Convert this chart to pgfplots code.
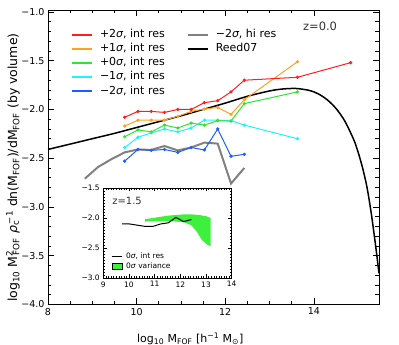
\documentclass[border=0pt]{standalone}
\usepackage{fontspec}
\setmainfont{DejaVu Sans}
\usepackage{pgfplots}
\pgfplotsset{compat=1.18}
\definecolor{lnRed}{HTML}{FF1E1E}
\definecolor{lnOrange}{HTML}{FFA024}
\definecolor{lnGreen}{HTML}{2EE62E}
\definecolor{lnCyan}{HTML}{22F2FF}
\definecolor{lnBlue}{HTML}{1E5EFF}
\definecolor{lnGray}{HTML}{808080}
\definecolor{varFill}{HTML}{3CF03C}

\begin{document}
\begin{tikzpicture}
\useasboundingbox (-48pt,-40.5pt) rectangle (351pt,304.5pt);
\begin{axis}[at={(0pt,0pt)},anchor=south west,scale only axis,width=331pt,height=294.5pt,
  xmin=8,xmax=15.47,ymin=-4,ymax=-0.98,
  xtick={8,10,12,14},xticklabels={8,10,12,14},
  ytick={-4,-3.5,-3,-2.5,-2,-1.5,-1},yticklabels={−4.0,−3.5,−3.0,−2.5,−2.0,−1.5,−1.0},
  minor x tick num=3,minor y tick num=4,
  tick align=inside,major tick length=6pt,minor tick length=3.5pt,
  axis line style={line width=0.8pt},every tick/.style={black,line width=0.6pt},
  ticklabel style={font=\fontsize{9.5}{11}\selectfont},
  xlabel={log\textsubscript{10} M\textsubscript{FOF} [h\textsuperscript{−1} M\textsubscript{⊙}]},
  ylabel={log\textsubscript{10} M\textsuperscript{2}\kern-0.4em\textsubscript{FOF} \textit{ρ}\textsubscript{c}\kern-0.3em\textsuperscript{−1} dn(M\textsubscript{FOF})/dM\textsubscript{FOF} (by volume)},
  xlabel style={font=\fontsize{11}{13}\selectfont,at={(axis description cs:0.43,-0.117)},anchor=center},
  ylabel style={font=\fontsize{12.5}{14}\selectfont,at={(axis description cs:-0.106,0.465)},anchor=center,rotate=0},
  legend image code/.code={\draw[#1] (0pt,0pt) -- (20pt,0pt);},
  legend columns=2,legend cell align=left,
  legend style={at={(0.0695,0.94)},anchor=north west,draw=none,fill=none,inner sep=0pt,row sep=0pt,
    font=\fontsize{11}{13}\selectfont,nodes={inner sep=1pt,text height=8.8pt,text depth=3.3pt},
    /tikz/every odd column/.append style={column sep=6pt},
    /tikz/every even column/.append style={column sep=21pt}},
  mark size=1.1pt]
% Reed07
\addplot[black,line width=1.5pt,smooth,forget plot] coordinates {(8.0,-2.41)(8.5,-2.355)(9.0,-2.30)(9.5,-2.245)(10.0,-2.185)(10.5,-2.125)(11.0,-2.065)(11.5,-2.0)(12.0,-1.935)(12.5,-1.865)(13.0,-1.81)(13.3,-1.79)(13.6,-1.785)(13.9,-1.805)(14.1,-1.84)(14.3,-1.90)(14.5,-1.99)(14.7,-2.12)(14.9,-2.31)(15.0,-2.44)(15.1,-2.60)(15.2,-2.80)(15.3,-3.08)(15.4,-3.42)(15.47,-3.68)};
% -2 sigma hi res
\addplot[lnGray,line width=2pt,forget plot] coordinates {(8.83,-2.71)(9.13,-2.59)(9.43,-2.51)(9.73,-2.44)(10.03,-2.41)(10.33,-2.415)(10.63,-2.375)(10.93,-2.42)(11.23,-2.39)(11.53,-2.34)(11.83,-2.35)(12.13,-2.76)(12.43,-2.60)};
% -2 sigma
\addplot[lnBlue,line width=1pt,mark=*,forget plot] coordinates {(9.73,-2.53)(10.03,-2.41)(10.33,-2.42)(10.63,-2.41)(10.93,-2.44)(11.23,-2.39)(11.53,-2.415)(11.83,-2.20)(12.13,-2.48)(12.43,-2.46)};
% -1 sigma
\addplot[lnCyan,line width=1pt,mark=*,forget plot] coordinates {(9.73,-2.39)(10.03,-2.285)(10.33,-2.24)(10.63,-2.20)(10.93,-2.23)(11.23,-2.19)(11.53,-2.11)(11.83,-2.11)(12.13,-2.115)(12.43,-2.16)(13.63,-2.30)};
% +0 sigma
\addplot[lnGreen,line width=1pt,mark=*,forget plot] coordinates {(9.73,-2.28)(10.03,-2.21)(10.33,-2.23)(10.63,-2.16)(10.93,-2.19)(11.23,-2.14)(11.53,-2.16)(11.83,-2.115)(12.13,-2.12)(12.43,-1.94)(13.63,-1.82)};
% +1 sigma
\addplot[lnOrange,line width=1pt,mark=*,forget plot] coordinates {(9.73,-2.17)(10.03,-2.11)(10.33,-2.11)(10.63,-2.11)(10.93,-2.07)(11.23,-2.02)(11.53,-1.995)(11.83,-1.98)(12.13,-2.05)(12.43,-1.90)(13.63,-1.51)};
% +2 sigma
\addplot[lnRed,line width=1pt,mark=*,forget plot] coordinates {(9.73,-2.08)(10.03,-2.02)(10.33,-2.02)(10.63,-2.03)(10.93,-2.0)(11.23,-2.0)(11.53,-1.93)(11.83,-1.91)(12.13,-1.82)(12.43,-1.70)(13.63,-1.67)(14.83,-1.52)};
% legend, filled row by row
\addlegendimage{color=lnRed,line width=1.8pt}\addlegendentry{+2\textit{σ}, int res}
\addlegendimage{color=lnGray,line width=2pt}\addlegendentry{−2\textit{σ}, hi res}
\addlegendimage{color=lnOrange,line width=1.8pt}\addlegendentry{+1\textit{σ}, int res}
\addlegendimage{color=black,line width=1.8pt}\addlegendentry{Reed07}
\addlegendimage{color=lnGreen,line width=1.8pt}\addlegendentry{+0\textit{σ}, int res}
\addlegendimage{empty legend}\addlegendentry{}
\addlegendimage{color=lnCyan,line width=1.8pt}\addlegendentry{−1\textit{σ}, int res}
\addlegendimage{empty legend}\addlegendentry{}
\addlegendimage{color=lnBlue,line width=1.8pt}\addlegendentry{−2\textit{σ}, int res}
\node[font=\fontsize{11.5}{13}\selectfont,text=black!80] at (rel axis cs:0.822,0.943) {z=0.0};
\end{axis}

\begin{axis}[at={(55.3pt,26.5pt)},anchor=south west,scale only axis,width=128.4pt,height=90pt,
  xmin=9,xmax=14,ymin=-3,ymax=-1.5,
  xtick={9,...,14},xticklabels={9,10,11,12,13,14},
  ytick={-3,-2.5,-2,-1.5},yticklabels={−3.0,−2.5,−2.0,−1.5},
  minor x tick num=9,minor y tick num=9,
  tick align=inside,major tick length=3.5pt,minor tick length=1.6pt,
  axis line style={line width=0.7pt},every tick/.style={black,line width=0.4pt},
  axis background/.style={fill=white},
  ticklabel style={font=\fontsize{7.5}{9}\selectfont},
  legend cell align=left,
  legend style={at={(0.06,0.298)},anchor=north west,draw=none,fill=none,inner sep=0pt,row sep=0pt,
    font=\fontsize{7.5}{9}\selectfont,nodes={inner sep=1pt,text height=6pt,text depth=1.7pt},
    /tikz/every odd column/.append style={column sep=3pt}}]
\addplot[fill=varFill,draw=none,forget plot] coordinates {(10.63,-2.02)(10.93,-2.0)(11.23,-1.98)(11.53,-1.96)(11.83,-1.95)(12.13,-1.94)(12.43,-1.94)(12.73,-1.95)(13.0,-1.97)(13.18,-2.0)(13.18,-2.47)(13.03,-2.44)(12.83,-2.36)(12.63,-2.22)(12.43,-2.12)(12.13,-2.07)(11.83,-2.06)(11.53,-2.05)(11.23,-2.05)(10.93,-2.05)(10.63,-2.06)} --cycle;
\addplot[black,line width=1pt,forget plot] coordinates {(9.73,-2.10)(10.03,-2.10)(10.33,-2.12)(10.63,-2.14)(10.93,-2.14)(11.23,-2.10)(11.53,-2.08)(11.83,-1.99)(12.13,-2.06)(12.43,-2.025)};
\addlegendimage{legend image code/.code={\draw[black,line width=1pt] (0pt,0pt) -- (10pt,0pt);}}
\addlegendentry{0\textit{σ}, int res}
\addlegendimage{legend image code/.code={\draw[fill=varFill,draw=black,line width=0.4pt] (0pt,-3pt) rectangle (10pt,3pt);}}
\addlegendentry{0\textit{σ} variance}
\node[font=\fontsize{10}{12}\selectfont,text=black!80] at (rel axis cs:0.185,0.856) {z=1.5};
\end{axis}
\end{tikzpicture}
\end{document}
